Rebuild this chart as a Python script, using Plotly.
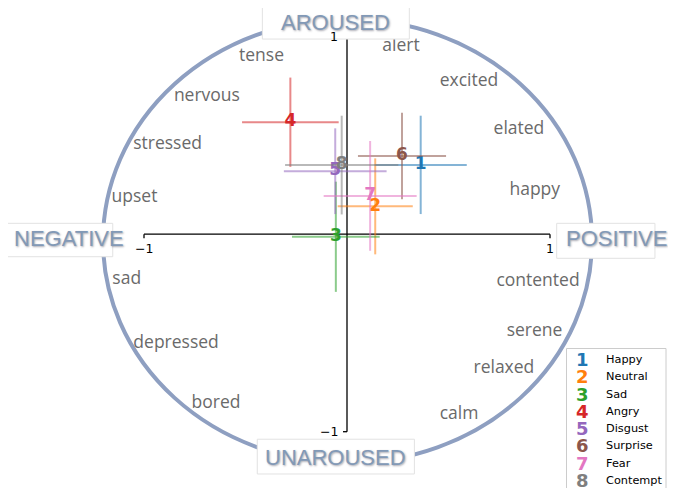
import plotly.graph_objects as go

# ---------------- data ----------------
emotions = ["Happy", "Neutral", "Sad", "Angry", "Disgust", "Surprise", "Fear", "Contempt"]
valence = [0.363, 0.139, -0.055, -0.279, -0.058, 0.271, 0.114, -0.026]
arousal = [0.351, 0.141, -0.013, 0.567, 0.319, 0.396, 0.194, 0.350]
valence_sd = [0.227, 0.185, 0.216, 0.238, 0.253, 0.217, 0.229, 0.279]
arousal_sd = [0.249, 0.243, 0.279, 0.226, 0.217, 0.219, 0.278, 0.250]

words = ["tense", "nervous", "stressed", "upset", "alert", "excited", "elated", "happy",
         "sad", "depressed", "bored", "contented", "serene", "relaxed", "calm"]
word_x = [-0.421, -0.690, -0.884, -1.047, 0.266, 0.601, 0.847, 0.925,
          -1.085, -0.842, -0.645, 0.941, 0.924, 0.773, 0.552]
word_y = [0.897, 0.695, 0.452, 0.183, 0.949, 0.772, 0.528, 0.220,
          -0.228, -0.552, -0.856, -0.241, -0.494, -0.683, -0.915]

pole_labels = ["AROUSED", "UNAROUSED", "NEGATIVE", "POSITIVE"]
tick_values = [-1, 1]
tick_labels = ["\u22121", "1"]

colors = ["#1f77b4", "#ff7f0e", "#2ca02c", "#d62728",
          "#9467bd", "#8c564b", "#e377c2", "#7f7f7f"]


def rgba(hexc, a):
    h = hexc.lstrip("#")
    return "rgba(%d,%d,%d,%s)" % (int(h[0:2], 16), int(h[2:4], 16), int(h[4:6], 16), a)


# page body has an 8px margin: the figure starts at screen (8, 8)
OFF = 8
W, H = 676 - OFF, 488 - OFF

fig = go.Figure()

# ---------------- axes spines with end ticks ----------------
tx = 0.0197  # tick length in x data units (~4px)
ty = 0.020   # tick length in y data units (~4px)
ax_x, ax_y = [], []
ax_x += [tick_values[0], tick_values[-1], None]
ax_y += [0, 0, None]
for t in tick_values:
    ax_x += [t, t, None]
    ax_y += [0, -ty, None]
ax_x += [0, 0, None]
ax_y += [tick_values[0], tick_values[-1], None]
for t in tick_values:
    ax_x += [0, -tx, None]
    ax_y += [t, t, None]
fig.add_trace(go.Scatter(x=ax_x, y=ax_y, mode="lines",
                         line=dict(color="black", width=1.3),
                         hoverinfo="skip", showlegend=False))

# ---------------- emotion points with error bars ----------------
for i, name in enumerate(emotions):
    fig.add_trace(go.Scatter(
        x=[valence[i]], y=[arousal[i]], mode="text",
        text=[str(i + 1)],
        textposition="middle center",
        textfont=dict(family="DejaVu Sans", size=17, color=colors[i], weight="bold"),
        error_x=dict(type="data", array=[valence_sd[i]], color=rgba(colors[i], 0.55),
                     thickness=2, width=0),
        error_y=dict(type="data", array=[arousal_sd[i]], color=rgba(colors[i], 0.55),
                     thickness=2, width=0),
        name=name, showlegend=False))

# ---------------- circumplex words ----------------
fig.add_trace(go.Scatter(
    x=word_x, y=word_y, mode="text", text=words,
    textfont=dict(family="Open Sans", size=17.5, color="#6a6a6a"),
    hoverinfo="skip", showlegend=False))

shapes = []
# circumplex ring
shapes.append(dict(type="circle", xref="x", yref="y",
                   x0=-1.202, x1=1.207, y0=-1.158, y1=1.090,
                   line=dict(color="#8e9fc1", width=4), layer="below"))

# label boxes
boxes = [(-0.417, 0.307, 0.988, 1.166),
         (-0.442, 0.332, -1.214, -1.038),
         (-1.680, -1.154, -0.114, 0.055),
         (1.033, 1.517, -0.122, 0.055)]
for (x0, x1, y0, y1) in boxes:
    shapes.append(dict(type="rect", xref="x", yref="y", x0=x0, x1=x1, y0=y0, y1=y1,
                       fillcolor="white", line=dict(color="#e2e2e2", width=1), layer="above"))

annotations = []
pole_pos = [(-0.059, 1.074), (-0.057, -1.130), (-1.370, -0.024), (1.330, -0.024)]
for lab, (px, py) in zip(pole_labels, pole_pos):
    annotations.append(dict(x=px, y=py, xref="x", yref="y", text=lab, showarrow=False,
                            font=dict(family="Liberation Sans", size=22, color="#8299b6",
                                      shadow="1px 1px 2px rgba(60,60,80,0.45)"),
                            xanchor="center", yanchor="middle"))

# tick labels
for t, lab in zip(tick_values, tick_labels):
    annotations.append(dict(x=t, y=0, xref="x", yref="y", text=lab, showarrow=False,
                            font=dict(family="DejaVu Sans", size=12.5, color="black"),
                            xanchor="center", yanchor="top", yshift=-5))
    annotations.append(dict(x=0, y=t, xref="x", yref="y", text=lab, showarrow=False,
                            font=dict(family="DejaVu Sans", size=12.5, color="black"),
                            xanchor="right", yanchor="middle", xshift=-7))


# ---------------- custom legend (screen px -> paper) ----------------
def pxx(p):
    return (p - OFF) / W


def pxy(p):
    return 1 - (p - OFF) / H


leg_left, leg_top = 566.5, 348.5
row0, row_h = 359.5, 17.25
shapes.append(dict(type="rect", xref="paper", yref="paper",
                   x0=pxx(leg_left), x1=pxx(666), y0=pxy(500), y1=pxy(leg_top),
                   fillcolor="white", line=dict(color="#cccccc", width=1), layer="above"))
for i, name in enumerate(emotions):
    yy = pxy(row0 + i * row_h)
    annotations.append(dict(x=pxx(582.5), y=yy, xref="paper", yref="paper",
                            text=str(i + 1), showarrow=False,
                            font=dict(family="DejaVu Sans", size=18, color=colors[i], weight="bold"),
                            xanchor="center", yanchor="middle"))
    annotations.append(dict(x=pxx(603.5), y=yy, xref="paper", yref="paper",
                            text=name, showarrow=False,
                            font=dict(family="DejaVu Sans", size=11.3, color="black"),
                            xanchor="left", yanchor="middle"))

# axis ranges so that data units map to the reference's pixel scale
x_c, x_s = 347.0, 203.0
y_c, y_s = 234.2, 197.5
fig.update_layout(
    width=W, height=H,
    margin=dict(l=0, r=0, t=0, b=0),
    paper_bgcolor="white", plot_bgcolor="white",
    xaxis=dict(range=[(OFF - x_c) / x_s, (676 - x_c) / x_s], visible=False, fixedrange=True),
    yaxis=dict(range=[(y_c - 488) / y_s, (y_c - OFF) / y_s], visible=False, fixedrange=True),
    shapes=shapes, annotations=annotations,
    showlegend=False,
)

fig.write_html("out.html")
